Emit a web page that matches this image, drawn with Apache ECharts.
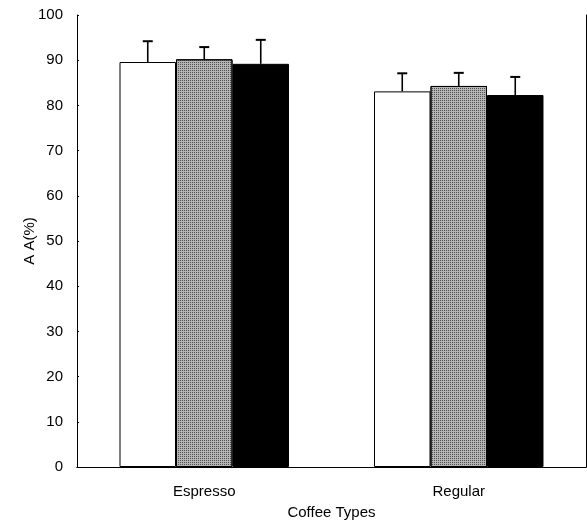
<!DOCTYPE html>
<html>
<head>
<meta charset="utf-8">
<script src="https://cdn.jsdelivr.net/npm/echarts@6/dist/echarts.min.js"></script>
<style>
  html, body { margin: 0; padding: 0; background: #fff; }
  #chart { width: 587px; height: 520px; }
</style>
</head>
<body>
<div id="chart"></div>
<script>
var categories = ['Espresso', 'Regular']
var seriesA = [89.6, 83.1]
var seriesB = [90.2, 84.3]
var seriesC = [89.2, 82.3]
var errA = [4.6, 4.0]
var errB = [2.7, 2.9]
var errC = [5.3, 4.0]
var yTicks = [0, 10, 20, 30, 40, 50, 60, 70, 80, 90, 100]

var BAR_PCT = 0.222
var groups = [
  { values: seriesA, errs: errA, color: '#ffffff' },
  { values: seriesB, errs: errB, color: '#b4b4b4' },
  { values: seriesC, errs: errC, color: '#000000' }
]

var chart = echarts.init(document.getElementById('chart'))

var series = []
groups.forEach(function (g, gi) {
  var itemStyle = { color: g.color, borderColor: '#000', borderWidth: 1 }
  if (gi === 1) {
    // stippled grey like the scanned original
    itemStyle.decal = {
      symbol: 'rect',
      symbolSize: 1,
      color: 'rgba(50,50,50,0.75)',
      dashArrayX: [1, 1],
      dashArrayY: [1, 1],
      rotation: 0
    }
  }
  series.push({
    type: 'bar',
    xAxisIndex: 0,
    yAxisIndex: 0,
    data: g.values,
    barWidth: (BAR_PCT * 100) + '%',
    barGap: '0%',
    itemStyle: itemStyle,
    animation: false,
    silent: true
  })
})

groups.forEach(function (g, gi) {
  series.push({
    type: 'custom',
    xAxisIndex: 0,
    yAxisIndex: 0,
    data: g.values.map(function (v, i) { return [i, v, v + g.errs[i]] }),
    renderItem: function (params, api) {
      var base = api.coord([api.value(0), api.value(1)])
      var top = api.coord([api.value(0), api.value(2)])
      var band = api.size([1, 0])[0]
      var x = base[0] + (gi - 1) * band * BAR_PCT
      var cap = 5
      return {
        type: 'group',
        children: [
          { type: 'line', shape: { x1: x, y1: base[1], x2: x, y2: top[1] }, style: { stroke: '#000', lineWidth: 1.6 } },
          { type: 'line', shape: { x1: x - cap, y1: top[1], x2: x + cap, y2: top[1] }, style: { stroke: '#000', lineWidth: 2 } }
        ]
      }
    },
    z: 10,
    animation: false,
    silent: true
  })
})

var font = { fontFamily: 'Liberation Sans', fontSize: 15, color: '#000' }

chart.setOption({
  backgroundColor: '#fff',
  grid: { left: 77, right: 1, top: 15, bottom: 53, containLabel: false, outerBoundsMode: 'none' },
  xAxis: [{
    type: 'category',
    data: categories,
    name: 'Coffee Types',
    nameLocation: 'middle',
    nameGap: 38,
    nameMoveOverlap: false,
    nameTextStyle: font,
    axisLine: { lineStyle: { color: '#000', width: 1 } },
    axisTick: { show: false },
    axisLabel: Object.assign({ margin: 17 }, font)
  }, {
    type: 'category',
    data: categories,
    position: 'top',
    axisLine: { lineStyle: { color: '#000' } },
    axisTick: { show: false },
    axisLabel: { show: false }
  }],
  yAxis: [{
    type: 'value',
    min: yTicks[0],
    max: yTicks[yTicks.length - 1],
    interval: 10,
    name: 'A A(%)',
    nameLocation: 'middle',
    nameGap: 40,
    nameMoveOverlap: false,
    nameRotate: 90,
    nameTextStyle: font,
    axisLine: { show: true, lineStyle: { color: '#000', width: 1 } },
    axisTick: { show: true, inside: true, length: 2, lineStyle: { color: '#000' } },
    axisLabel: Object.assign({ margin: 14 }, font),
    splitLine: { show: false }
  }, {
    type: 'value',
    min: 0,
    max: 100,
    position: 'right',
    axisLine: { show: true, lineStyle: { color: '#000' } },
    axisTick: { show: false },
    axisLabel: { show: false },
    splitLine: { show: false }
  }],
  series: series
})
</script>
</body>
</html>
